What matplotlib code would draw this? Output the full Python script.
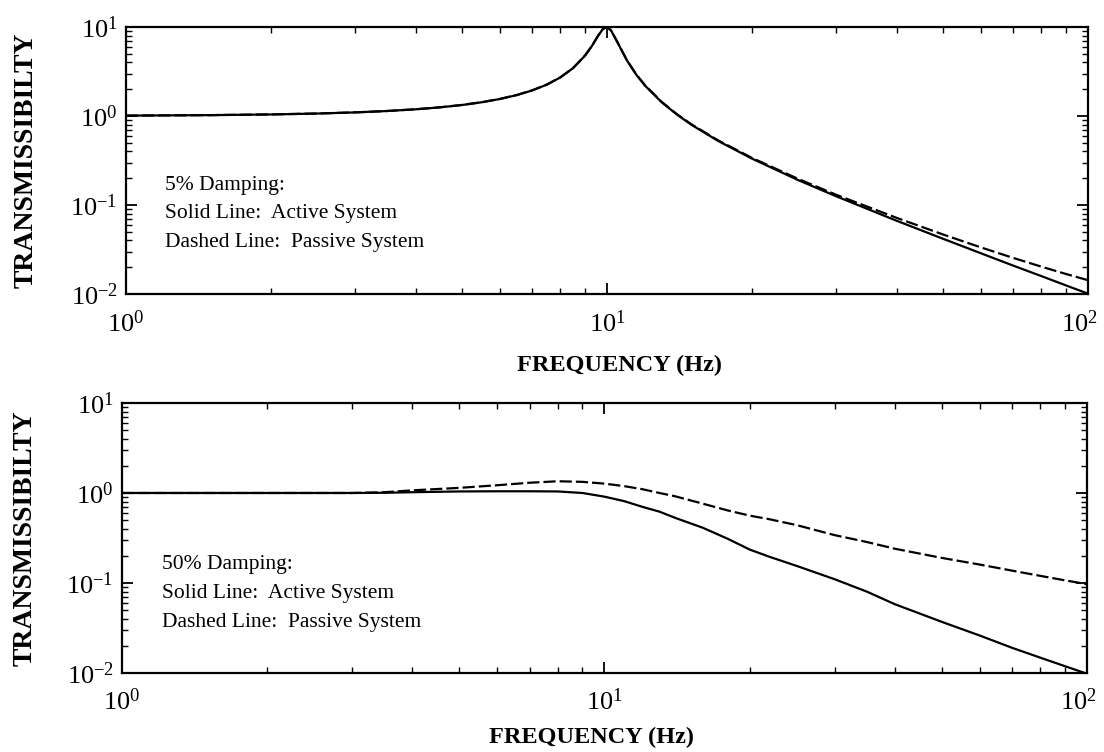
import matplotlib.pyplot as plt
from matplotlib.transforms import ScaledTranslation

plt.rcParams["font.family"] = "Liberation Serif"
plt.rcParams["mathtext.fontset"] = "custom"
plt.rcParams["mathtext.rm"] = "Liberation Serif"

# 5% damping, transmissibility vs frequency
freq_5 = [1, 1.5, 2, 2.5, 3, 3.5, 4, 4.5, 5, 5.5, 6, 6.5, 7, 7.5, 8, 8.5, 9,
          9.3, 9.6, 9.8, 10, 10.2, 10.5, 11, 11.5, 12, 13, 14, 15, 17, 20,
          25, 30, 40, 50, 60, 70, 80, 90, 100]
active_5 = [1.01, 1.023, 1.041, 1.066, 1.098, 1.139, 1.189, 1.252, 1.330,
            1.429, 1.556, 1.721, 1.943, 2.253, 2.712, 3.446, 4.757, 6.097,
            8.068, 9.461, 10.0, 9.115, 6.815, 4.218, 2.921, 2.193, 1.424,
            1.031, 0.794, 0.527, 0.333, 0.190, 0.125, 0.0666, 0.0417, 0.0286,
            0.0208, 0.0159, 0.0125, 0.0101]
passive_5 = [1.01, 1.023, 1.042, 1.067, 1.099, 1.139, 1.190, 1.253, 1.332,
             1.431, 1.559, 1.724, 1.947, 2.259, 2.720, 3.458, 4.776, 6.123,
             8.105, 9.506, 10.05, 9.162, 6.852, 4.243, 2.940, 2.209, 1.436,
             1.041, 0.803, 0.535, 0.339, 0.196, 0.130, 0.0718, 0.0466, 0.0333,
             0.0254, 0.0203, 0.0168, 0.0143]

# 50% damping
freq_50 = [1, 2, 3, 3.5, 4, 5, 6, 7, 8, 9, 10, 11, 12, 13, 14, 16, 18, 20,
           22, 25, 30, 35, 40, 50, 60, 70, 80, 90, 100]
active_50 = [1.0, 1.0, 1.0, 1.005, 1.02, 1.04, 1.045, 1.045, 1.04, 1.0, 0.91,
             0.81, 0.70, 0.62, 0.53, 0.41, 0.31, 0.235, 0.195, 0.155, 0.11,
             0.08, 0.058, 0.037, 0.026, 0.019, 0.0148, 0.0119, 0.0098]
passive_50 = [1.0, 1.0, 1.0, 1.02, 1.07, 1.14, 1.22, 1.30, 1.35, 1.33, 1.27,
              1.19, 1.10, 1.0, 0.92, 0.76, 0.64, 0.56, 0.51, 0.44, 0.34,
              0.285, 0.24, 0.19, 0.16, 0.137, 0.12, 0.107, 0.097]

notes = ["Solid Line:  Active System", "Dashed Line:  Passive System"]

# rect, xlabel x/y, ylabel x, x tick pad, note x, note rows y
panels = [
    (freq_5, active_5, passive_5, "5% Damping:",
     [0.1141, 0.6090, 0.8714, 0.3551], (0.5135, -0.228), -0.091, 12,
     0.0405, [0.405, 0.300, 0.193]),
    (freq_50, active_50, passive_50, "50% Damping:",
     [0.1105, 0.1051, 0.8741, 0.3590], (0.487, -0.20), -0.087, 11,
     0.0415, [0.400, 0.293, 0.186]),
]

fig = plt.figure(figsize=(11.04, 7.52), dpi=100)

for freq, active, passive, title, rect, xl, yl, xpad, tx, ty in panels:
    ax = fig.add_axes(rect)
    ax.plot(freq, passive, color="black", linewidth=1.6, linestyle=(0, (5.5, 1.8)))
    ax.plot(freq, active, color="black", linewidth=1.6)
    ax.set_xscale("log")
    ax.set_yscale("log")
    ax.set_xlim(1, 100)
    ax.set_ylim(0.01, 10)
    for s in ax.spines.values():
        s.set_linewidth(1.6)
    ax.tick_params(which="both", direction="in", top=True, right=True)
    ax.tick_params(which="major", length=8, width=1.3, labelsize=19)
    ax.tick_params(which="minor", length=4, width=1.0)
    ax.tick_params(axis="x", which="major", pad=xpad)
    ax.tick_params(axis="y", which="major", pad=6)

    ax.set_xlabel("FREQUENCY (Hz)", fontsize=17.5, fontweight="bold")
    ax.xaxis.set_label_coords(xl[0], xl[1])
    ax.set_ylabel("TRANSMISSIBILTY", fontsize=20, fontweight="bold")
    ax.yaxis.set_label_coords(yl, 0.5)

    for label, y in zip([title] + notes, ty):
        ax.text(tx, y, label, transform=ax.transAxes, fontsize=15.5, va="center")

    # pull the 10^2 label in a little so it stays on the canvas
    fig.canvas.draw()
    last = ax.get_xticklabels()[-1]
    for lab in ax.get_xticklabels():
        if lab.get_position()[0] == 100:
            last = lab
    last.set_transform(last.get_transform() + ScaledTranslation(-6 / 72, 0, fig.dpi_scale_trans))

fig.savefig("out.png", dpi=100)
